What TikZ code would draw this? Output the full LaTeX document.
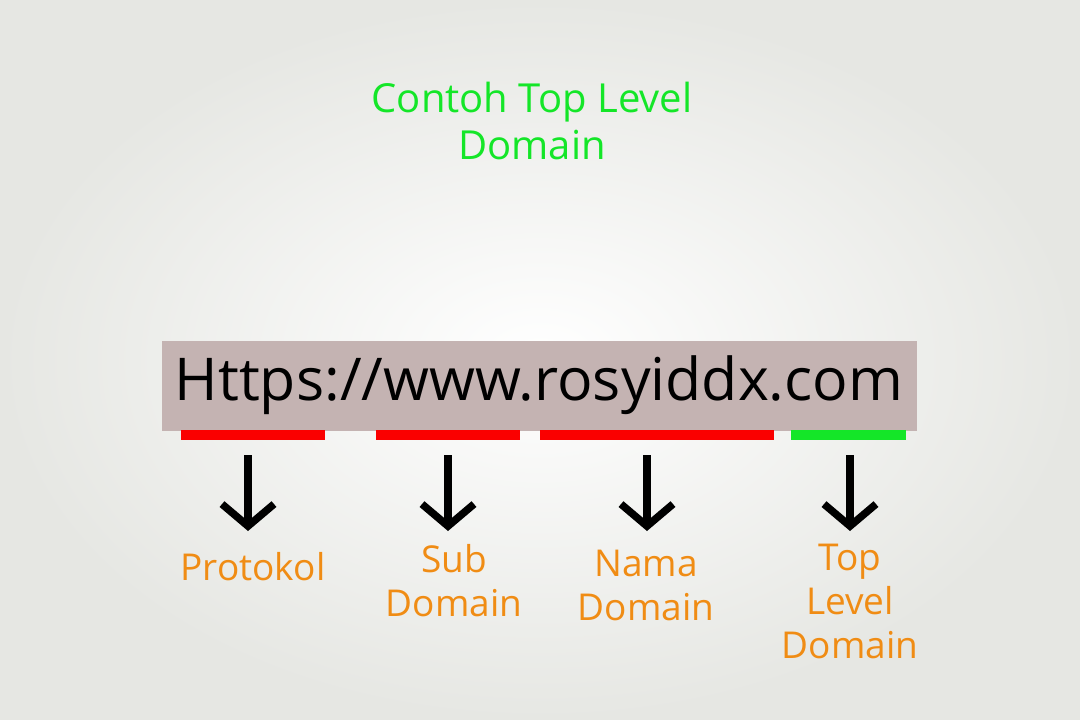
\documentclass[tikz,border=0pt]{standalone}
\usepackage{fontspec}
\setmainfont{Open Sans}
\usetikzlibrary{arrows.meta}
\definecolor{bg}{RGB}{230,231,227}
\definecolor{tgreen}{RGB}{20,230,40}
\definecolor{box}{RGB}{196,179,178}
\definecolor{lab}{RGB}{240,140,20}
\definecolor{bred}{RGB}{250,0,0}
\begin{document}
\begin{tikzpicture}[x=1pt,y=-1pt,
  lbl/.style={text=lab,font=\fontsize{37}{44}\selectfont,align=center},
  bar/.style={fill=bred},
  arr/.style={line width=7.5pt,-{Straight Barb[length=22pt,width=52pt,line width=7.5pt]}}]
\useasboundingbox (0,0) rectangle (1080,720);
\shade[inner color=white,outer color=bg] (0,0) rectangle (1080,720);
\node[text=tgreen,font=\fontsize{40}{47}\selectfont,align=center] (title) at (532,121) {Contoh Top Level\\Domain};
\fill[box] (162,341) rectangle (917,431);
\node[font=\fontsize{59}{60}\selectfont] (url) at (539,385) {Https://www.rosyiddx.com};
\fill[bar] (181,430) rectangle (325,440);
\fill[bar] (376,430) rectangle (520,440);
\fill[bar] (540,430) rectangle (774,440);
\fill[tgreen] (791,430) rectangle (906,440);
\foreach \n/\x in {a/248,b/448,c/647,d/850}{
  \coordinate (s\n) at (\x,455);
  \coordinate (e\n) at (\x,531);
  \draw[arr] (s\n) -- (e\n);
}
\node[lbl] (p) at (253,567) {Protokol};
\node[lbl] (s) at (454,581) {Sub\\Domain};
\node[lbl] (n) at (646,585) {Nama\\Domain};
\node[lbl] (t) at (850,601) {Top\\Level\\Domain};
\end{tikzpicture}
\end{document}
